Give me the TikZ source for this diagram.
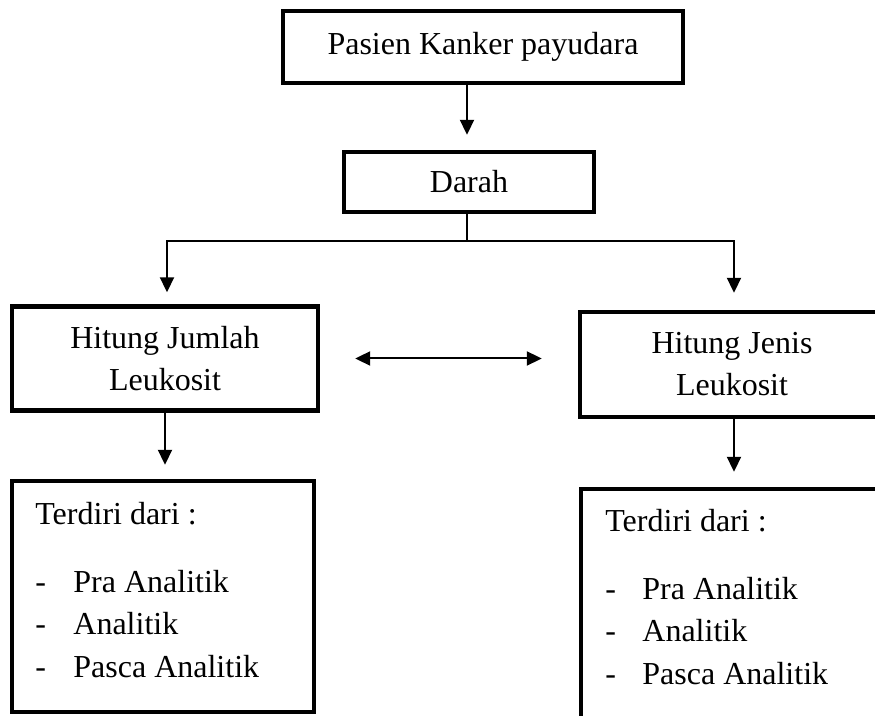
\documentclass[tikz,border=0pt]{standalone}
\usepackage{fontspec}
\setmainfont{Liberation Serif}
\usetikzlibrary{arrows.meta}

\begin{document}
\begin{tikzpicture}[x=0.5pt,y=-0.5pt,
        kotak/.style={draw,line width=2.2pt,inner sep=0pt,align=center,font=\fontsize{16}{21}\selectfont},
        tulisan/.style={anchor=base west,inner sep=0pt,font=\fontsize{16}{18}\selectfont},
        panah/.style={-{Triangle[length=7.5pt,width=7pt]},line width=1pt},
        garis/.style={line width=0.7pt}]
            \useasboundingbox (0,0) rectangle (875,716);
            \clip (0,0) rectangle (875,716);

            \node[kotak,minimum width=200pt,minimum height=36pt] (pasien) at (483,47) {Pasien Kanker payudara};
            \node[kotak,minimum width=125pt,minimum height=30pt] (darah) at (469,182) {Darah};

            \node[kotak,minimum width=153pt,minimum height=52pt] (jumlah) at (165,358.5) {Hitung Jumlah\\Leukosit};
            \node[kotak,minimum width=152pt,minimum height=52.5pt] (jenis) at (732,364.5) {Hitung Jenis\\Leukosit};

            \node[kotak,minimum width=151pt,minimum height=115.5pt] (isi1) at (163,596.5) {};
            \node[kotak,minimum width=151pt,minimum height=115.5pt] (isi2) at (732,604.5) {};

            \node[tulisan] (t10) at (35,525) {Terdiri dari :};
            \node[tulisan] (t11) at (35,593) {-};
            \node[tulisan] (t12) at (35,635) {-};
            \node[tulisan] (t13) at (35,678) {-};
            \node[tulisan] (p11) at (73,593) {Pra Analitik};
            \node[tulisan] (p12) at (73,635) {Analitik};
            \node[tulisan] (p13) at (73,678) {Pasca Analitik};

            \node[tulisan] (t20) at (605,532) {Terdiri dari :};
            \node[tulisan] (t21) at (605,600) {-};
            \node[tulisan] (t22) at (605,642) {-};
            \node[tulisan] (t23) at (605,685) {-};
            \node[tulisan] (p21) at (642,600) {Pra Analitik};
            \node[tulisan] (p22) at (642,642) {Analitik};
            \node[tulisan] (p23) at (642,685) {Pasca Analitik};

            \coordinate (cabang) at (467,241);

            \draw[panah,shorten >=7.5pt] (pasien.south -| cabang) -- (darah.north -| cabang);
            \draw[garis] (darah.south -| cabang) -- (cabang);
            \draw[garis,panah,shorten >=6pt] (cabang) -| ([xshift=1pt]jumlah.north);
            \draw[garis,panah,shorten >=8.5pt] (cabang) -| ([xshift=1pt]jenis.north);

            \draw[panah,{Triangle[length=7.5pt,width=7pt]}-{Triangle[length=7.5pt,width=7pt]},shorten <=17.5pt,shorten >=18pt] (jumlah.east) -- (jumlah.east -| jenis.west);

            \draw[panah,shorten >=7pt] (jumlah.south) -- (isi1.north -| jumlah.south);
            \draw[panah,shorten >=7.5pt] ([xshift=1pt]jenis.south) -- ([xshift=1pt]isi2.north -| jenis.south);
    \end{tikzpicture}
\end{document}
